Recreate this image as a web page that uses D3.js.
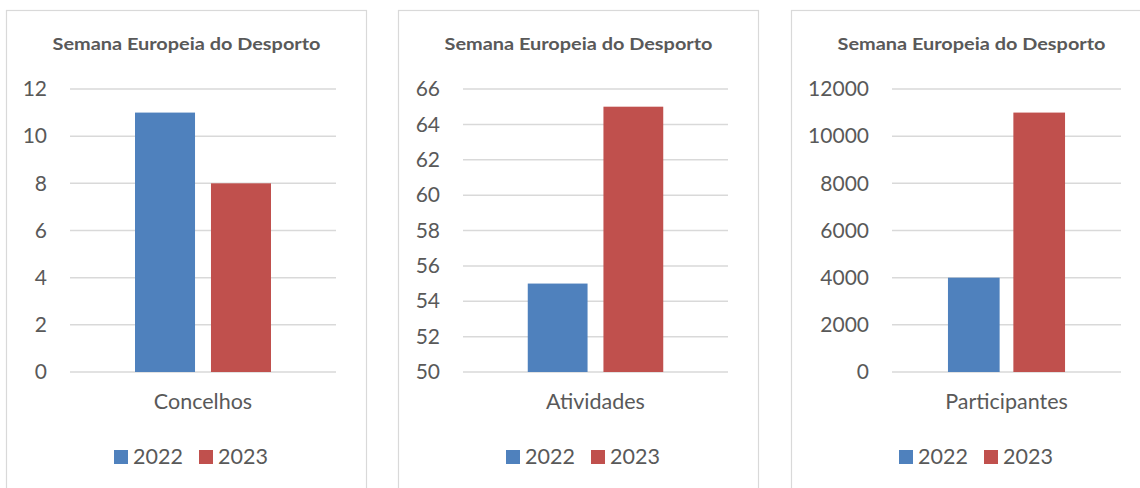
<!DOCTYPE html>
<html>
<head>
<meta charset="utf-8">
<script src="https://cdn.jsdelivr.net/npm/d3@7"></script>
<style>
  body { margin: 0; background: #fff; }
  text { font-family: Lato, "Open Sans", sans-serif; fill: #595959; }
</style>
</head>
<body>
<div id="plot"></div>
<script>
// data
var chartTitle = "Semana Europeia do Desporto";
var categories = ["Concelhos", "Atividades", "Participantes"];
var seriesNames = ["2022", "2023"];
var values2022 = [11, 55, 4000];
var values2023 = [8, 65, 11000];
var yMins = [0, 50, 0];
var yMaxs = [12, 66, 12000];
var tickSteps = [2, 2, 2000];

var colors = ["#4f81bd", "#c0504d"];

// layout of the three panels
var width = 1140, height = 488;
var panelLeft = [6, 398, 791];
var panelWidth = 360;
var plotLeft = [64, 65, 101];   // offset of plot area inside panel
var plotRight = 30;
var plotTop = 89, plotBottom = 372;

var svg = d3.select("div#plot")
  .append("svg")
  .attr("width", width)
  .attr("height", height);

categories.forEach(function(cat, i) {
  var g = svg.append("g")
    .attr("transform", "translate(" + panelLeft[i] + ",0)");

  // panel border
  g.append("rect")
    .attr("x", 0.5)
    .attr("y", 10.5)
    .attr("width", panelWidth)
    .attr("height", 520)
    .attr("fill", "#fff")
    .attr("stroke", "#d9d9d9")
    .attr("stroke-width", 1.2);

  // title
  g.append("text")
    .attr("x", panelWidth / 2 + 0.5)
    .attr("y", 50)
    .attr("text-anchor", "middle")
    .attr("font-size", 17.5)
    .attr("font-weight", "bold")
    .attr("textLength", 268)
    .attr("lengthAdjust", "spacingAndGlyphs")
    .text(chartTitle);

  var x0 = plotLeft[i], x1 = panelWidth - plotRight;

  var y = d3.scaleLinear()
    .domain([yMins[i], yMaxs[i]])
    .range([plotBottom, plotTop]);

  var ticks = d3.range(yMins[i], yMaxs[i] + tickSteps[i] / 2, tickSteps[i]);

  // gridlines
  g.selectAll(".grid")
    .data(ticks)
    .enter().append("line")
    .attr("x1", x0)
    .attr("x2", x1)
    .attr("y1", function(d) { return y(d); })
    .attr("y2", function(d) { return y(d); })
    .attr("stroke", "#d9d9d9")
    .attr("stroke-width", 1.5);

  // y axis labels
  var yAxis = d3.axisLeft(y)
    .tickValues(ticks)
    .tickSize(0)
    .tickPadding(23)
    .tickFormat(d3.format("d"));

  var ax = g.append("g")
    .attr("transform", "translate(" + x0 + ",0)")
    .call(yAxis);
  ax.select(".domain").remove();
  ax.selectAll("text")
    .attr("font-size", 21)
    .attr("font-family", "Lato, 'Open Sans', sans-serif")
    .attr("fill", "#595959");

  // bars
  var xOuter = d3.scaleBand()
    .domain([cat])
    .range([x0, x1])
    .paddingInner(0)
    .paddingOuter(0.478);

  var xInner = d3.scaleBand()
    .domain(seriesNames)
    .range([0, xOuter.bandwidth()])
    .paddingInner(0.21)
    .paddingOuter(0);

  var rows = [
    { key: seriesNames[0], value: values2022[i], color: colors[0] },
    { key: seriesNames[1], value: values2023[i], color: colors[1] }
  ];

  g.selectAll(".bar")
    .data(rows)
    .enter().append("rect")
    .attr("class", "bar")
    .attr("x", function(d) { return xOuter(cat) + xInner(d.key); })
    .attr("y", function(d) { return y(d.value); })
    .attr("width", xInner.bandwidth())
    .attr("height", function(d) { return y(yMins[i]) - y(d.value); })
    .attr("fill", function(d) { return d.color; });

  // category label
  g.append("text")
    .attr("x", xOuter(cat) + xOuter.bandwidth() / 2)
    .attr("y", 409)
    .attr("text-anchor", "middle")
    .attr("font-size", 21.5)
    .text(cat);

  // legend
  var legend = g.append("g")
    .attr("transform", "translate(" + (panelWidth / 2 - 72) + ",0)");

  var item = legend.selectAll(".legend")
    .data(rows)
    .enter().append("g")
    .attr("class", "legend")
    .attr("transform", function(d, j) { return "translate(" + (j * 85) + ",0)"; });

  item.append("rect")
    .attr("x", 0)
    .attr("y", 450)
    .attr("width", 14)
    .attr("height", 14)
    .attr("fill", function(d) { return d.color; });

  item.append("text")
    .attr("x", 19)
    .attr("y", 464)
    .attr("font-size", 21.5)
    .text(function(d) { return d.key; });
});
</script>
</body>
</html>
